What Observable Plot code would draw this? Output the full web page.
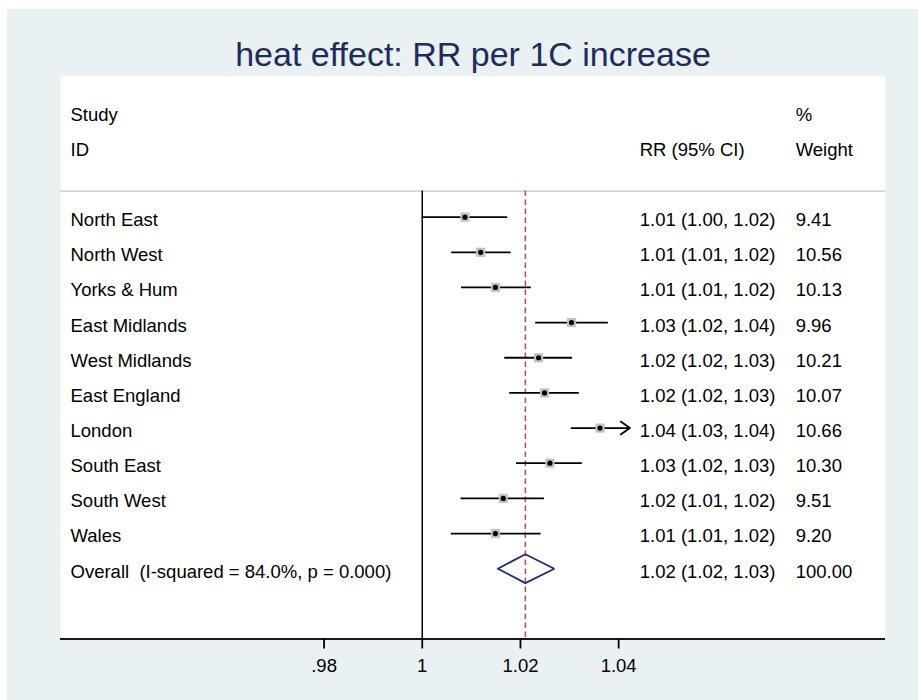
<!DOCTYPE html>
<html><head><meta charset="utf-8">
<script src="https://cdn.jsdelivr.net/npm/d3@7"></script>
<script src="https://cdn.jsdelivr.net/npm/@observablehq/plot@0.6"></script>
<style>
html,body{margin:0;padding:0;background:#fff;}
#wrap{position:relative;width:918px;height:700px;overflow:hidden;}
#bg{position:absolute;left:7px;top:9px;right:0;bottom:0;background:#e9f1f3;}
#chart{position:absolute;left:0;top:0;}
</style></head><body>
<div id="wrap"><div id="bg"></div><div id="chart"></div></div>
<script>
// ---- data ----
const title = "heat effect: RR per 1C increase";
const regions = ["North East","North West","Yorks & Hum","East Midlands","West Midlands","East England","London","South East","South West","Wales"];
const rr     = [1.0087, 1.0119, 1.0149, 1.0304, 1.0237, 1.0249, 1.0362, 1.0260, 1.0165, 1.0149];
const lower  = [1.0000, 1.0060, 1.0080, 1.0231, 1.0168, 1.0178, 1.0304, 1.0192, 1.0079, 1.0059];
const upper  = [1.0174, 1.0181, 1.0222, 1.0379, 1.0306, 1.0320, 1.0440, 1.0326, 1.0249, 1.0242];
const weights = [9.41, 10.56, 10.13, 9.96, 10.21, 10.07, 10.66, 10.30, 9.51, 9.20];
const ciLabels = ["1.01 (1.00, 1.02)","1.01 (1.01, 1.02)","1.01 (1.01, 1.02)","1.03 (1.02, 1.04)","1.02 (1.02, 1.03)","1.02 (1.02, 1.03)","1.04 (1.03, 1.04)","1.03 (1.02, 1.03)","1.02 (1.01, 1.02)","1.01 (1.01, 1.02)"];
const overallLabel = "Overall  (I-squared = 84.0%, p = 0.000)";
const overallRR = 1.0210, overallLower = 1.0154, overallUpper = 1.0269;
const overallWeight = 100.00;
const overallCI = "1.02 (1.02, 1.03)";
const xTicks = [0.98, 1, 1.02, 1.04];
const xTickLabels = [".98", "1", "1.02", "1.04"];

// ---- layout constants ----
const ciMax = 1.0423;      // CI lines clipped here (arrow)
const ciColX = 1.04430;    // x of "RR (95% CI)" column
const wColX = 1.07605;     // x of "% Weight" column
const yTop = -4, yBottom = 12, sepRow = -0.74;
const overallRow = regions.length;
const fmtW = d3.format(".2f");

const rows = regions.map((name, i) => ({name, row: i, rr: rr[i], lo: lower[i], hi: upper[i], w: weights[i], ci: ciLabels[i]}));
const diamond = [
  {x: overallLower, y: overallRow},
  {x: overallRR, y: overallRow - 0.41},
  {x: overallUpper, y: overallRow},
  {x: overallRR, y: overallRow + 0.41},
  {x: overallLower, y: overallRow}
];
const headers = [
  {t: "Study", row: -3, col: "left"},
  {t: "ID", row: -2, col: "left"},
  {t: "RR (95% CI)", row: -2, col: "ci"},
  {t: "%", row: -3, col: "w"},
  {t: "Weight", row: -2, col: "w"}
];
const fs = 18.5;

const chart = Plot.plot({
  width: 918, height: 700,
  marginLeft: 60, marginRight: 33, marginTop: 76, marginBottom: 61.5,
  style: {background: "transparent", fontFamily: "'Liberation Sans', Arial, sans-serif", fontSize: fs + "px", color: "black", overflow: "visible"},
  x: {domain: [0.92632, 1.09435]},
  y: {domain: [yTop, yBottom], reverse: true, axis: null},
  marks: [
    Plot.frame({fill: "white", stroke: null}),
    Plot.ruleY([sepRow], {stroke: "#c4c4c4", strokeWidth: 1.2}),
    Plot.ruleX([1], {y1: sepRow, y2: yBottom, stroke: "black", strokeWidth: 1.5}),
    Plot.ruleX([overallRR], {y1: sepRow, y2: yBottom, stroke: "#a4506a", strokeWidth: 1.5, strokeDasharray: "5.5,3.5"}),
    Plot.ruleY(rows.filter(d => d.hi <= ciMax), {y: "row", x1: "lo", x2: "hi", stroke: "black", strokeWidth: 1.8}),
    Plot.arrow(rows.filter(d => d.hi > ciMax), {x1: "lo", x2: () => ciMax, y1: "row", y2: "row", stroke: "black", strokeWidth: 1.8, headLength: 9.4, headAngle: 70}),
    Plot.dot(rows, {x: "rr", y: "row", symbol: "square", r: 5.2, fill: "#c2c2c2"}),
    Plot.dot(rows, {x: "rr", y: "row", r: 2.6, fill: "black"}),
    Plot.line(diamond, {x: "x", y: "y", stroke: "#1f2a7c", strokeWidth: 1.8, strokeLinejoin: "miter"}),
    // left labels
    Plot.text(rows, {y: "row", text: "name", frameAnchor: "left", dx: 10, dy: 3, textAnchor: "start", fontSize: fs}),
    Plot.text([overallLabel], {y: () => overallRow, text: d => d, frameAnchor: "left", dx: 10, dy: 3, textAnchor: "start", fontSize: fs}),
    // headers
    Plot.text(headers.filter(h => h.col === "left"), {y: "row", text: "t", frameAnchor: "left", dx: 10, dy: 3, textAnchor: "start", fontSize: fs}),
    Plot.text(headers.filter(h => h.col !== "left"), {x: h => h.col === "ci" ? ciColX : wColX, y: "row", text: "t", dy: 3, textAnchor: "start", fontSize: fs}),
    // CI column
    Plot.text(rows, {x: () => ciColX, y: "row", text: "ci", dy: 3, textAnchor: "start", fontSize: fs}),
    Plot.text([overallCI], {x: () => ciColX, y: () => overallRow, text: d => d, dy: 3, textAnchor: "start", fontSize: fs}),
    // weight column
    Plot.text(rows, {x: () => wColX, y: "row", text: d => fmtW(d.w), dy: 3, textAnchor: "start", fontSize: fs}),
    Plot.text([overallWeight], {x: () => wColX, y: () => overallRow, text: d => fmtW(d), dy: 3, textAnchor: "start", fontSize: fs}),
    // axis line, ticks and labels
    Plot.ruleY([yBottom], {stroke: "#1a1a1a", strokeWidth: 2}),
    Plot.axisX({ticks: xTicks, tickFormat: d => xTickLabels[xTicks.indexOf(d)], tickSize: 10, tickPadding: 10, fontSize: fs, strokeWidth: 1.8, stroke: "black", label: null}),
    // title
    Plot.text([title], {frameAnchor: "top", dy: -11, lineAnchor: "bottom", text: d => d, fontSize: 34, fill: "#1e2b5e"})
  ]
});
document.getElementById("chart").appendChild(chart);
</script>
</body></html>
